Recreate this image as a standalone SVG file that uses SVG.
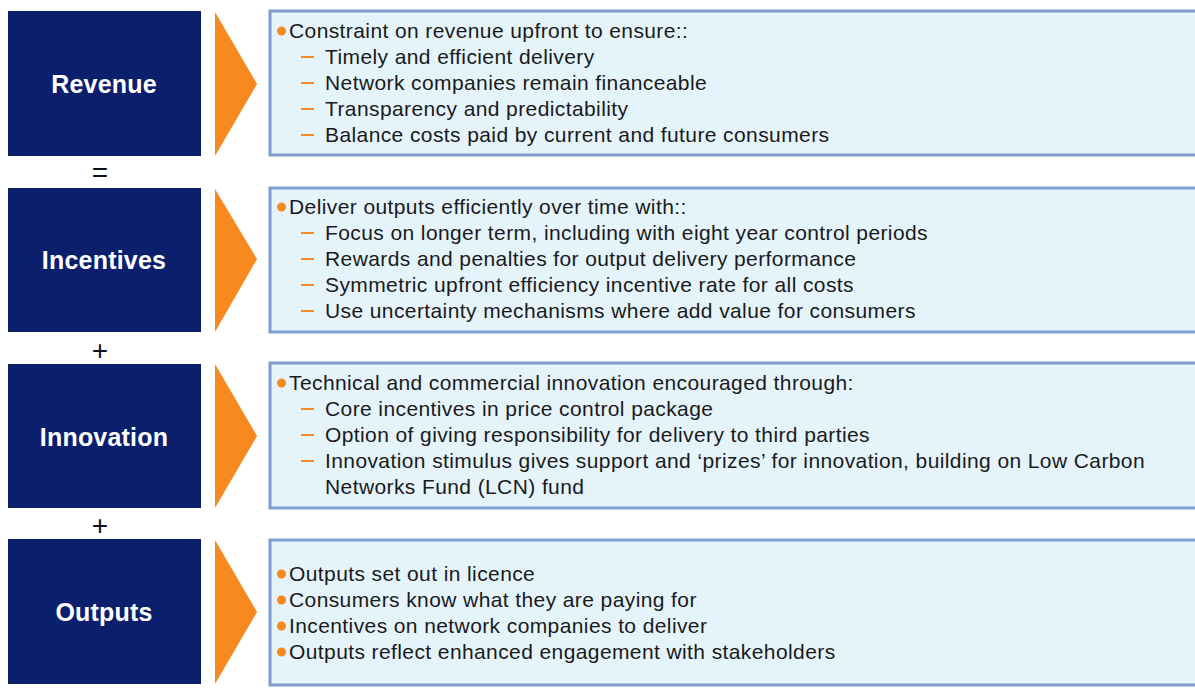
<svg xmlns="http://www.w3.org/2000/svg" width="1195" height="697" viewBox="0 0 1195 697">
<style>
.lbl{font-family:"Liberation Sans",Arial,sans-serif;font-weight:bold;font-size:25px;letter-spacing:0.2px;fill:#ffffff;text-anchor:middle}
.op{font-family:"Liberation Sans",Arial,sans-serif;font-size:28px;fill:#111111;text-anchor:middle}
.t{font-family:"Liberation Sans",Arial,sans-serif;font-size:21px;letter-spacing:0.4px;fill:#1a1a1a}
.dk{fill:#0b1f6d}
.arr{fill:#f7891e}
.bx{fill:#e5f3fb;stroke:#809dcc;stroke-width:3}
.dot{fill:#f7891e}
.dash{stroke:#f7891e;stroke-width:2}
</style>
<rect width="1195" height="697" fill="#ffffff"/>
<g id="revenue">
<rect class="dk" x="8" y="11" width="193" height="145"/>
<text class="lbl" x="104" y="93">Revenue</text>
<polygon class="arr" points="215,12 257,84 215,156"/>
<rect class="bx" x="270" y="11" width="940" height="144"/>
<circle class="dot" cx="281.5" cy="31" r="4.5"/>
<text class="t" x="289" y="38">Constraint on revenue upfront to ensure::</text>
<line class="dash" x1="301" y1="57" x2="314" y2="57"/><text class="t" x="325" y="64">Timely and efficient delivery</text>
<line class="dash" x1="301" y1="83" x2="314" y2="83"/><text class="t" x="325" y="90">Network companies remain financeable</text>
<line class="dash" x1="301" y1="109" x2="314" y2="109"/><text class="t" x="325" y="116">Transparency and predictability</text>
<line class="dash" x1="301" y1="135" x2="314" y2="135"/><text class="t" x="325" y="142">Balance costs paid by current and future consumers</text>
</g>
<g id="incentives">
<rect class="dk" x="8" y="188" width="193" height="144"/>
<text class="lbl" x="104" y="269">Incentives</text>
<polygon class="arr" points="215,189 257,259 215,332"/>
<rect class="bx" x="270" y="188" width="940" height="144"/>
<circle class="dot" cx="281.5" cy="207" r="4.5"/>
<text class="t" x="289" y="214">Deliver outputs efficiently over time with::</text>
<line class="dash" x1="301" y1="233" x2="314" y2="233"/><text class="t" x="325" y="240">Focus on longer term, including with eight year control periods</text>
<line class="dash" x1="301" y1="259" x2="314" y2="259"/><text class="t" x="325" y="266">Rewards and penalties for output delivery performance</text>
<line class="dash" x1="301" y1="285" x2="314" y2="285"/><text class="t" x="325" y="292">Symmetric upfront efficiency incentive rate for all costs</text>
<line class="dash" x1="301" y1="311" x2="314" y2="311"/><text class="t" x="325" y="318">Use uncertainty mechanisms where add value for consumers</text>
</g>
<g id="innovation">
<rect class="dk" x="8" y="364" width="193" height="144"/>
<text class="lbl" x="104" y="446">Innovation</text>
<polygon class="arr" points="215,364 257,436 215,508"/>
<rect class="bx" x="270" y="363" width="940" height="145"/>
<circle class="dot" cx="281.5" cy="383" r="4.5"/>
<text class="t" x="289" y="390">Technical and commercial innovation encouraged through:</text>
<line class="dash" x1="301" y1="409" x2="314" y2="409"/><text class="t" x="325" y="416">Core incentives in price control package</text>
<line class="dash" x1="301" y1="435" x2="314" y2="435"/><text class="t" x="325" y="442">Option of giving responsibility for delivery to third parties</text>
<line class="dash" x1="301" y1="461" x2="314" y2="461"/><text class="t" x="325" y="468">Innovation stimulus gives support and ‘prizes’ for innovation, building on Low Carbon</text>
<text class="t" x="325" y="494">Networks Fund (LCN) fund</text>
</g>
<g id="outputs">
<rect class="dk" x="8" y="539" width="193" height="145"/>
<text class="lbl" x="104" y="621">Outputs</text>
<polygon class="arr" points="215,540 257,612 215,684"/>
<rect class="bx" x="270" y="540" width="940" height="145"/>
<circle class="dot" cx="281.5" cy="574" r="4.5"/>
<text class="t" x="289" y="581">Outputs set out in licence</text>
<circle class="dot" cx="281.5" cy="600" r="4.5"/>
<text class="t" x="289" y="607">Consumers know what they are paying for</text>
<circle class="dot" cx="281.5" cy="626" r="4.5"/>
<text class="t" x="289" y="633">Incentives on network companies to deliver</text>
<circle class="dot" cx="281.5" cy="652" r="4.5"/>
<text class="t" x="289" y="659">Outputs reflect enhanced engagement with stakeholders</text>
</g>
<g id="connectors">
<text class="op" x="100" y="182">=</text>
<text class="op" x="100" y="360">+</text>
<text class="op" x="100" y="535">+</text>
</g>
</svg>
